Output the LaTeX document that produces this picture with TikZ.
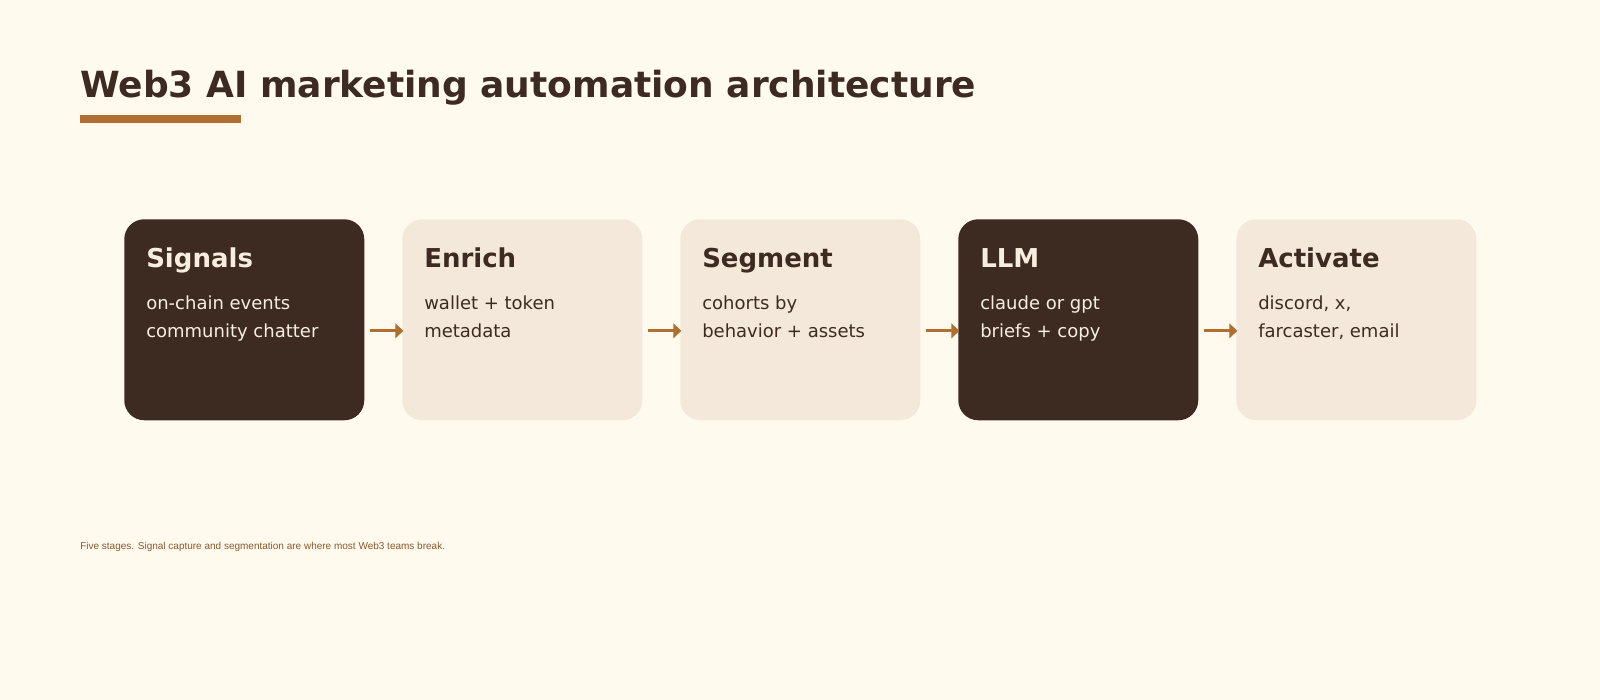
\documentclass[tikz,border=0pt]{standalone}
\usepackage{fontspec}
\setmainfont{DejaVu Sans}
\newfontfamily\footfont{Liberation Sans}
\usetikzlibrary{arrows.meta}
\definecolor{bg}{HTML}{FFF9EE}
\definecolor{dark}{HTML}{3D2B22}
\definecolor{lightbox}{HTML}{F3E8DA}
\definecolor{accent}{HTML}{B06E30}
\definecolor{lighttext}{HTML}{F8EEE0}
\definecolor{foot}{HTML}{8B5A2B}
\begin{document}
\begin{tikzpicture}[x=0.75pt,y=-0.75pt,
  box/.style={rounded corners=15pt, minimum width=180pt, minimum height=150.75pt, inner sep=0pt, anchor=north west},
  darkbox/.style={box, fill=dark},
  litebox/.style={box, fill=lightbox},
  head/.style={anchor=base west, font=\bfseries\fontsize{19.5}{20}\selectfont},
  body/.style={anchor=base west, font=\fontsize{13.5}{21}\selectfont, align=left, inner sep=0pt},
  conn/.style={draw=accent, line width=2.4pt, -{Triangle[length=6pt,width=11pt]}, shorten >=-1pt}]
\fill[bg] (0,0) rectangle (1600,700);
\useasboundingbox (0,0) rectangle (1600,700);
\node[anchor=base west, inner sep=0pt, text=dark, font=\bfseries\fontsize{27}{30}\selectfont] (title) at (80,97) {Web3 AI marketing automation architecture};
\fill[accent] (80,115) rectangle (241,123);
\node[darkbox] (b1) at (124,219) {};
\node[litebox] (b2) at (402,219) {};
\node[litebox] (b3) at (680,219) {};
\node[darkbox] (b4) at (958,219) {};
\node[litebox] (b5) at (1236,219) {};
\foreach \n/\x/\t/\c in {1/146/Signals/lighttext,2/424/Enrich/dark,3/702/Segment/dark,4/980/LLM/lighttext,5/1258/Activate/dark}{
  \node[head, inner sep=0pt, text=\c] (h\n) at (\x,267) {\t};
}
\node[body, text=lighttext] (t1) at (146,337) {on-chain events\\community chatter};
\node[body, text=dark] (t2) at (424,337) {wallet + token\\metadata};
\node[body, text=dark] (t3) at (702,337) {cohorts by\\behavior + assets};
\node[body, text=lighttext] (t4) at (980,337) {claude or gpt\\briefs + copy};
\node[body, text=dark] (t5) at (1258,337) {discord, x,\\farcaster, email};
\foreach \a/\b in {b1/b2,b2/b3,b3/b4,b4/b5}{
  \coordinate (s) at ([xshift=4pt,yshift=-8.3pt]\a.east);
  \coordinate (e) at ([yshift=-8.3pt]\b.west);
  \draw[conn] (s) -- (e);
}
\node[anchor=base west, inner sep=0pt, text=foot, font=\footfont\fontsize{7.5}{9}\selectfont] (note) at (80,549) {Five stages. Signal capture and segmentation are where most Web3 teams break.};
\end{tikzpicture}
\end{document}
